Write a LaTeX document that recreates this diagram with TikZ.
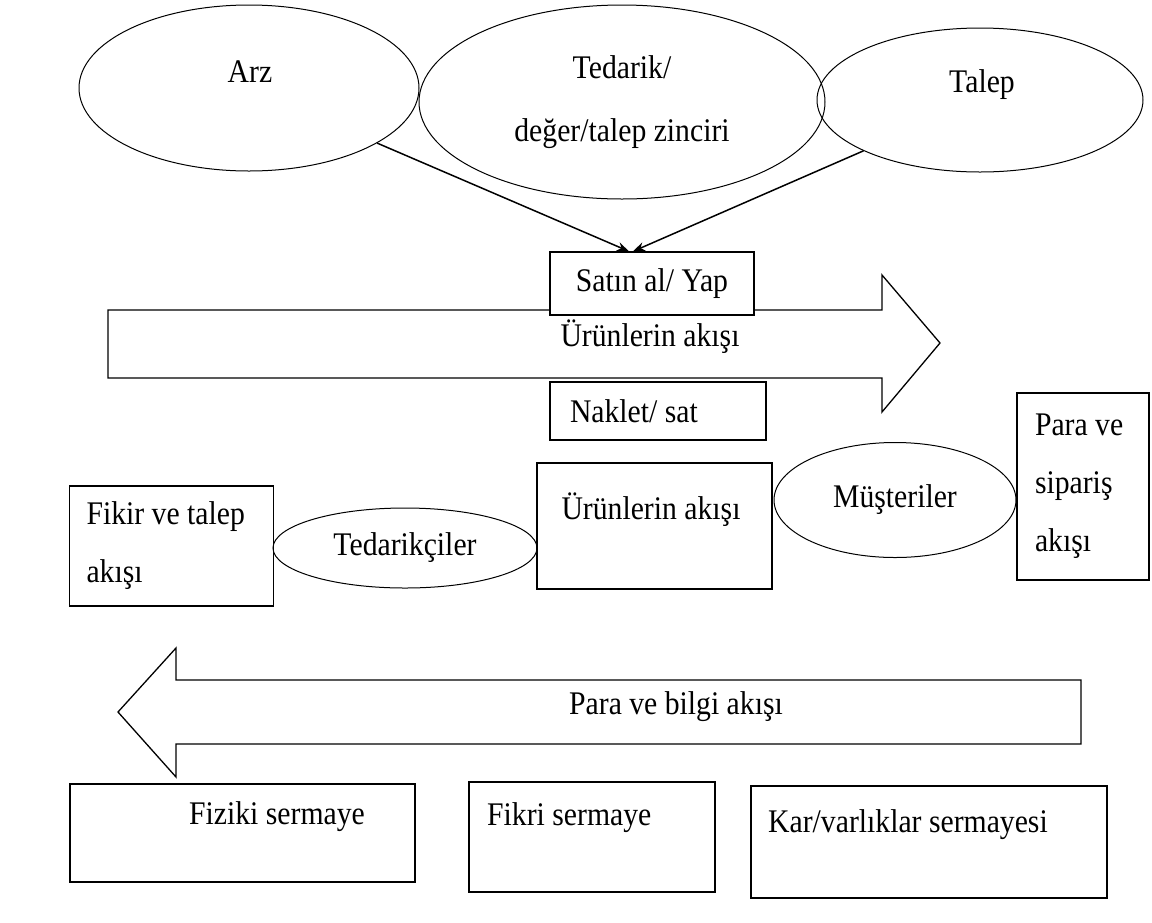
\documentclass[tikz,border=0pt]{standalone}
\usepackage{fontspec}
\setmainfont{Liberation Serif}[FakeStretch=0.9]
\usetikzlibrary{shapes.geometric, arrows.meta}

\begin{document}
\begin{tikzpicture}[
        x=1pt, y=-1pt,
        every node/.style={font=\fontsize{33}{58}\selectfont},
        ovalnode/.style={ellipse, draw=black, line width=1pt, inner sep=0pt},
        boxnode/.style={rectangle, draw=black, fill=white, line width=1.3pt, inner sep=0pt},
        textnode/.style={inner sep=0pt},
        flowarrow/.style={draw=black, line width=1.3pt, line join=miter},
        linkarrow/.style={-{Stealth[length=12pt, width=9pt]}, line width=1.5pt},
]
        \useasboundingbox (0,0) rectangle (1152,922);

        \node[ovalnode, minimum width=340, minimum height=166] (arz) at (249,88) {};
        \node[textnode] (arzlabel) at (250,72) {Arz};
        \node[ovalnode, minimum width=406, minimum height=194, align=center] (tedarik) at (622,102) {Tedarik/\\[5pt]değer/talep zinciri};
        \node[ovalnode, minimum width=326, minimum height=144] (talep) at (980,100) {};
        \node[textnode] (taleplabel) at (982,85) {Talep};

        \draw[flowarrow] (108,310) -- (882,310) -- (882,275) -- (940,343) -- (882,412) -- (882,378) -- (108,378) -- cycle;
        \node[textnode] (urunflow) at (650,337) {Ürünlerin akışı};
        \node[boxnode, minimum width=204, minimum height=63] (satin) at (652,283.5) {Satın al/ Yap};
        \node[boxnode, minimum width=216, minimum height=58, text width=176, align=flush left, inner xsep=20pt] (naklet) at (658,411) {Naklet/ sat};
        \draw[linkarrow] (arz) -- ([xshift=-23pt]satin.north);
        \draw[linkarrow] (talep) -- ([xshift=-19pt]satin.north);

        \node[boxnode, minimum width=203, minimum height=120, text width=170, align=flush left, inner xsep=17pt] (fikir) at (171.5,546) {Fikir ve talep\\akışı};
        \node[ovalnode, minimum width=264, minimum height=80] (tedarikci) at (405,548) {Tedarikçiler};
        \node[boxnode, minimum width=235, minimum height=126] (urunbox) at (654.5,526) {};
        \node[textnode] (urunlabel) at (651,510) {Ürünlerin akışı};
        \node[ovalnode, minimum width=242, minimum height=115] (musteri) at (895,500) {Müşteriler};
        \node[boxnode, minimum width=132, minimum height=187, text width=96, align=flush left, inner xsep=18pt] (paraorder) at (1083,486.5) {Para ve\\sipariş\\akışı};

        \draw[flowarrow] (1081,680) -- (176,680) -- (176,648) -- (118,712) -- (176,777) -- (176,744) -- (1081,744) -- cycle;
        \node[textnode] (paraflow) at (676,707) {Para ve bilgi akışı};

        \node[boxnode, minimum width=345, minimum height=98] (fiziki) at (242.5,833) {};
        \node[textnode] (fizikilabel) at (277,817) {Fiziki sermaye};
        \node[boxnode, minimum width=246, minimum height=110] (fikri) at (592,837) {};
        \node[textnode, anchor=west] (fikrilabel) at (487,818) {Fikri sermaye};
        \node[boxnode, minimum width=356, minimum height=112] (kar) at (929,842) {};
        \node[textnode, anchor=west] (karlabel) at (768,825) {Kar/varlıklar sermayesi};
\end{tikzpicture}
\end{document}
